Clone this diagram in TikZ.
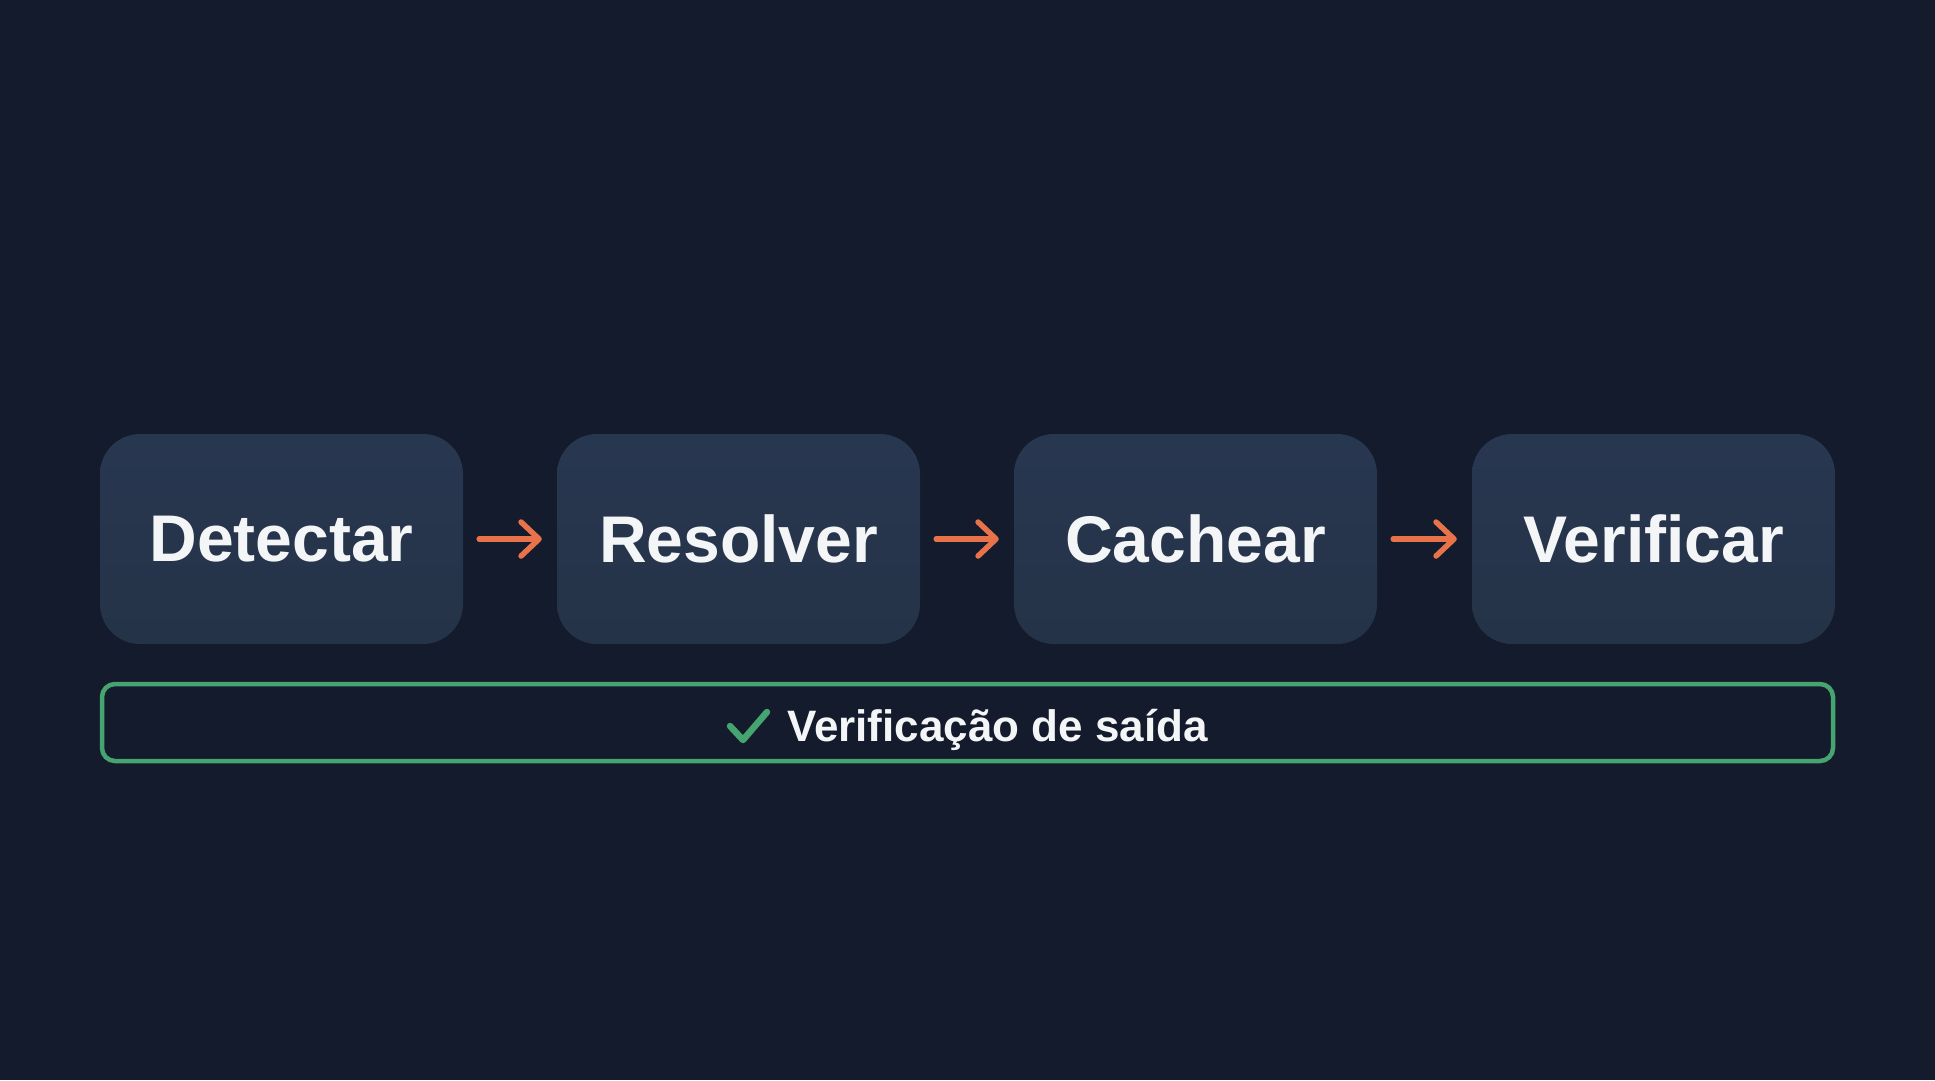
\documentclass[tikz,border=0pt]{standalone}
\usepackage{fontspec}
\setmainfont{Liberation Sans}
\usetikzlibrary{arrows.meta}
\definecolor{bgcol}{HTML}{131B2C}
\definecolor{boxcol}{HTML}{253348}
\definecolor{boxtop}{HTML}{283750}
\definecolor{arrcol}{HTML}{E8734A}
\definecolor{grncol}{HTML}{45A470}
\definecolor{txtcol}{HTML}{F4F5F7}
\tikzset{
  stagebox/.style={rounded corners=40pt, minimum width=363pt, minimum height=210pt,
    top color=boxtop, bottom color=boxcol, draw=none, text=txtcol,
    font=\fontsize{66}{66}\selectfont\bfseries, inner sep=0pt},
  flowarrow/.style={draw=arrcol, line width=5.5pt, line cap=round,
    -{Straight Barb[length=18pt,width=34pt,round]}},
  checkframe/.style={draw=grncol, line width=4.5pt, rounded corners=13pt,
    minimum width=1731pt, minimum height=77pt, inner sep=0pt},
  checklabel/.style={text=txtcol, font=\fontsize{44}{44}\selectfont\bfseries, inner sep=0pt},
}
\begin{document}
\begin{tikzpicture}[x=1pt,y=-1pt]
\fill[bgcol] (0,0) rectangle (1935,1080);
\useasboundingbox (0,0) rectangle (1935,1080);
\node[stagebox] (s1) at (281.5,539) {Detectar};
\node[stagebox] (s2) at (738.5,539) {Resolver};
\node[stagebox] (s3) at (1195.5,539) {Cachear};
\node[stagebox] (s4) at (1653.5,539) {Verificar};
\draw[flowarrow] ([xshift=16pt]s1.east) -- ([xshift=-15pt]s2.west);
\draw[flowarrow] ([xshift=16pt]s2.east) -- ([xshift=-15pt]s3.west);
\draw[flowarrow] ([xshift=16pt]s3.east) -- ([xshift=-15pt]s4.west);
\node[checkframe] (frame) at (967.5,722.5) {};
\node[checklabel, anchor=base west] (lbl) at (787,741) {Verificação de saída};
\coordinate (ck1) at (730,726);
\coordinate (ck2) at (743,740);
\coordinate (ck3) at (767,712);
\draw[grncol, line width=6.5pt, line cap=round, line join=round] (ck1) -- (ck2) -- (ck3);
\end{tikzpicture}
\end{document}
